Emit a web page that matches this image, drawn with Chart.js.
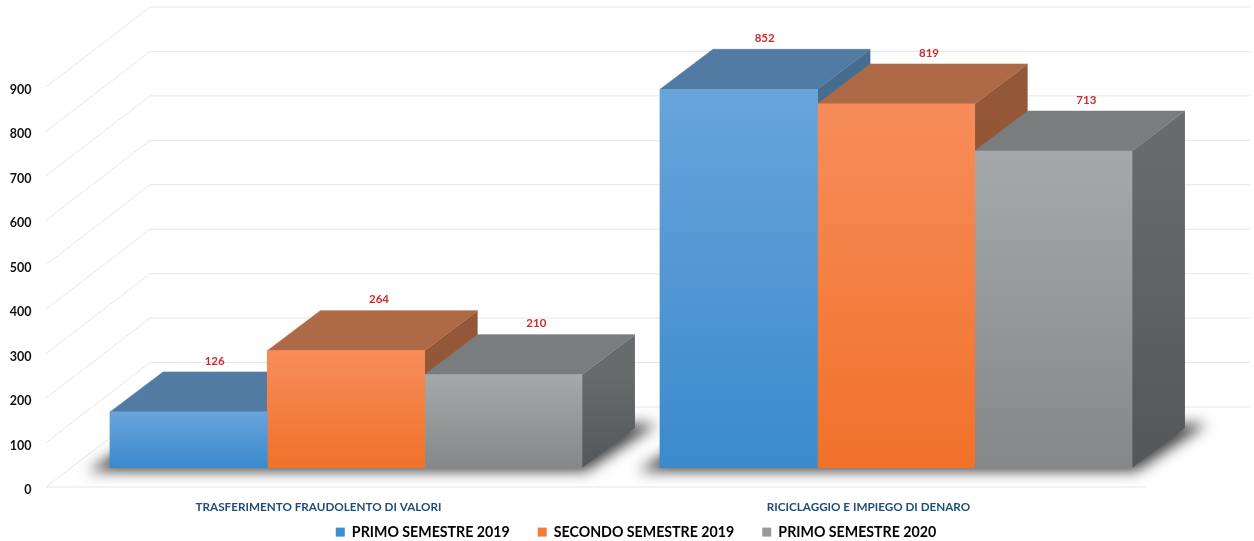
<!DOCTYPE html>
<html lang="it">
<head>
<meta charset="utf-8">
<title>Reati</title>
<script src="https://cdn.jsdelivr.net/npm/chart.js@4"></script>
<style>
    html, body { margin: 0; padding: 0; background: #ffffff; }
    #wrap { width: 1254px; height: 541px; }
</style>
</head>
<body>
<div id="wrap"><canvas id="chart"></canvas></div>
<script>
const categories = ['TRASFERIMENTO FRAUDOLENTO DI VALORI', 'RICICLAGGIO E IMPIEGO DI DENARO'];
const seriesNames = ['PRIMO SEMESTRE 2019', 'SECONDO SEMESTRE 2019', 'PRIMO SEMESTRE 2020'];
const primo2019 = [126, 852];
const secondo2019 = [264, 819];
const primo2020 = [210, 713];

// Face colours, one per series
const frontTop = ['#69a4dc', '#f78d5a', '#a6a9a9'];
const frontBottom = ['#3a8acc', '#f1712a', '#858788'];
const topFace = ['#527ba3', '#ae6a46', '#7a7d7d'];
const sideTop = ['#466d90', '#945737', '#676b6b'];
const sideBottom = ['#3c6283', '#8a5030', '#53575a'];
const legendColors = ['#3f8fd2', '#f37b36', '#999b9b'];

const FONT = 'Lato, "Open Sans", sans-serif';
const WALL = { dx: 104, dy: -80 };   // floor depth: front axis to back wall
const SHIFT = { dx: 25, dy: -19 };   // bars stand this far behind the front axis
const DEPTH = { dx: 53, dy: -40 };   // depth of the bars themselves
const LABEL_NUDGE = [26, 33, 33];
const GRID = '#e6e6e6';

const frontGradient = (context) => {
    const chart = context.chart;
    const y = chart.scales.y;
    const value = context.raw === undefined ? 0 : context.raw;
    const g = chart.ctx.createLinearGradient(0, y.getPixelForValue(value), 0, y.getPixelForValue(0));
    g.addColorStop(0, frontTop[context.datasetIndex]);
    g.addColorStop(1, frontBottom[context.datasetIndex]);
    return g;
};

const polygon = (ctx, pts) => {
    ctx.beginPath();
    ctx.moveTo(pts[0][0], pts[0][1]);
    for (let i = 1; i < pts.length; i++) ctx.lineTo(pts[i][0], pts[i][1]);
    ctx.closePath();
};

function drawWalls(chart) {
    const { ctx, chartArea, scales } = chart;
    ctx.save();
    ctx.strokeStyle = GRID;
    ctx.lineWidth = 1;
    scales.y.ticks.forEach((tick) => {
        const y = scales.y.getPixelForValue(tick.value);
        ctx.beginPath();
        ctx.moveTo(chartArea.left, y);
        ctx.lineTo(chartArea.left + WALL.dx, y + WALL.dy);
        ctx.lineTo(chartArea.right + WALL.dx, y + WALL.dy);
        ctx.stroke();
    });
    ctx.beginPath();
    ctx.moveTo(chartArea.left, chartArea.bottom);
    ctx.lineTo(chartArea.right, chartArea.bottom);
    ctx.stroke();
    ctx.restore();
}

function drawShadows(chart) {
    const ctx = chart.ctx;
    const first = chart.getDatasetMeta(0).data;
    const last = chart.getDatasetMeta(seriesNames.length - 1).data;
    const away = 3000; // shape is drawn off canvas so only its blur lands on the floor
    ctx.save();
    ctx.translate(SHIFT.dx - away, SHIFT.dy);
    ctx.shadowColor = 'rgba(35, 35, 35, 0.85)';
    ctx.shadowBlur = 14;
    ctx.shadowOffsetX = away;
    ctx.fillStyle = '#000000';
    first.forEach((bar, i) => {
        const left = bar.x - bar.width / 2;
        const right = last[i].x + last[i].width / 2;
        const base = bar.base;
        polygon(ctx, [
            [left - 22, base + 3],
            [right + 4, base + 3],
            [right + DEPTH.dx + 22, base + DEPTH.dy - 4],
            [left + DEPTH.dx, base + DEPTH.dy - 4]
        ]);
        ctx.fill();
    });
    ctx.restore();
}

function drawDepthFaces(chart) {
    const ctx = chart.ctx;
    ctx.save();
    ctx.translate(SHIFT.dx, SHIFT.dy);
    ctx.lineWidth = 0.6;
    categories.forEach((cat, c) => {
        seriesNames.forEach((name, s) => {
            const bar = chart.getDatasetMeta(s).data[c];
            const l = bar.x - bar.width / 2;
            const r = bar.x + bar.width / 2;
            const t = bar.y;
            const b = bar.base;

            const side = ctx.createLinearGradient(0, t, 0, b);
            side.addColorStop(0, sideTop[s]);
            side.addColorStop(1, sideBottom[s]);
            ctx.fillStyle = side;
            polygon(ctx, [[r, t], [r + DEPTH.dx, t + DEPTH.dy], [r + DEPTH.dx, b + DEPTH.dy], [r, b]]);
            ctx.fill();

            // stroke too, otherwise the face behind shows through the seam
            ctx.fillStyle = topFace[s];
            ctx.strokeStyle = topFace[s];
            polygon(ctx, [[l, t], [l + DEPTH.dx, t + DEPTH.dy], [r + DEPTH.dx, t + DEPTH.dy], [r, t]]);
            ctx.fill();
            ctx.stroke();
        });
    });
    ctx.restore();
}

function drawValues(chart) {
    const ctx = chart.ctx;
    ctx.save();
    ctx.fillStyle = '#cf2a2a';
    ctx.font = `bold 11.5px ${FONT}`;
    ctx.textAlign = 'center';
    ctx.textBaseline = 'middle';
    chart.data.datasets.forEach((ds, s) => {
        chart.getDatasetMeta(s).data.forEach((bar, i) => {
            ctx.fillText(ds.data[i], bar.x + SHIFT.dx + LABEL_NUDGE[s], bar.y + SHIFT.dy + DEPTH.dy - 11);
        });
    });
    ctx.restore();
}

const box3d = {
    id: 'box3d',
    afterLayout(chart) {
        // the legend sits off-centre, under the bars rather than under the axis
        const lg = chart.legend;
        lg.left = 136;
        lg.right = 1136;
        lg.top = 497;
        // small nudges to the axis labels
        chart.scales.y.getLabelItems().forEach((item) => { item.options.translation[1] += 3; });
        chart.scales.x.getLabelItems().forEach((item) => { item.options.translation[0] -= 2.5; });
    },
    beforeDatasetsDraw(chart) {
        drawWalls(chart);
        drawShadows(chart);
        drawDepthFaces(chart);
        chart.ctx.save();
        chart.ctx.translate(SHIFT.dx, SHIFT.dy);
    },
    afterDatasetsDraw(chart) {
        chart.ctx.restore();
        drawValues(chart);
    }
};

new Chart(document.getElementById('chart'), {
    type: 'bar',
    data: {
        labels: categories,
        datasets: [
            { label: seriesNames[0], data: primo2019, backgroundColor: frontGradient, inflateAmount: 0.4 },
            { label: seriesNames[1], data: secondo2019, backgroundColor: frontGradient, inflateAmount: 0.4 },
            { label: seriesNames[2], data: primo2020, backgroundColor: frontGradient, inflateAmount: 0.4 }
        ]
    },
    options: {
        responsive: true,
        maintainAspectRatio: false,
        animation: false,
        devicePixelRatio: 1,
        barPercentage: 1,
        categoryPercentage: 0.858,
        layout: { padding: { top: 87, right: 108, left: 0, bottom: 0 } },
        plugins: {
            tooltip: { enabled: false },
            legend: {
                position: 'bottom',
                maxHeight: 20,
                labels: {
                    boxWidth: 9,
                    boxHeight: 9,
                    padding: 28,
                    color: '#111111',
                    font: { family: FONT, size: 14.2, weight: 'bold' },
                    generateLabels: () => seriesNames.map((name, i) => ({
                        text: name,
                        fillStyle: legendColors[i],
                        strokeStyle: legendColors[i],
                        lineWidth: 0,
                        datasetIndex: i
                    }))
                }
            }
        },
        scales: {
            x: {
                grid: { display: false },
                border: { display: false },
                afterFit: (scale) => { scale.height = 34; },
                ticks: {
                    padding: 5,
                    maxRotation: 0,
                    autoSkip: false,
                    color: '#1f4e79',
                    font: { family: FONT, size: 11.7, weight: 'bold' }
                }
            },
            y: {
                min: 0,
                max: 900,
                grid: { display: false },
                border: { display: false },
                afterFit: (scale) => { scale.width = 46; },
                ticks: {
                    stepSize: 100,
                    padding: 6.5,
                    color: '#111111',
                    font: { family: FONT, size: 12.5, weight: 'bold' }
                }
            }
        }
    },
    plugins: [box3d]
});
</script>
</body>
</html>
